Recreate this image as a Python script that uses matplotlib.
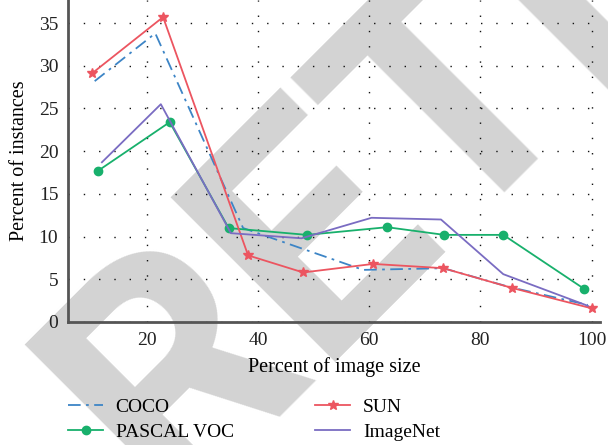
import matplotlib
matplotlib.use("Agg")
import matplotlib.pyplot as plt

coco_x = [10.6, 21.5, 37.3, 58.9, 73.3, 85.2, 99.3]
coco_y = [28.2, 33.8, 11.0, 6.1, 6.3, 4.1, 2.0]

sun_x = [10.1, 22.9, 38.2, 48.1, 60.7, 73.3, 85.6, 100.0]
sun_y = [29.1, 35.7, 7.8, 5.8, 6.8, 6.3, 4.0, 1.6]

voc_x = [11.2, 24.1, 34.7, 48.8, 63.2, 73.5, 84.1, 98.6]
voc_y = [17.7, 23.4, 11.0, 10.2, 11.1, 10.2, 10.2, 3.9]

imn_x = [11.9, 22.5, 35.1, 47.8, 60.4, 72.9, 84.1, 99.3]
imn_y = [18.7, 25.5, 10.4, 9.8, 12.2, 12.0, 5.6, 1.9]

xticks = [20, 40, 60, 80, 100]
yticks = [0, 5, 10, 15, 20, 25, 30, 35]

plt.rcParams['font.family'] = ['Liberation Serif', 'DejaVu Serif']

fig = plt.figure(figsize=(6.08, 4.45), dpi=100)
fig.text(0.276, -0.144, "RETRACTED", fontsize=235, fontweight='bold',
         family=['Roboto', 'DejaVu Sans'], color='#d3d3d3', rotation=45,
         ha='left', va='baseline', rotation_mode='anchor', zorder=-1)

ax = fig.add_axes([68/608, 1-322/445, (600-68)/608, 322/445])
ax.set_facecolor('none')

c_coco = '#3d85c6'
c_sun = '#ec5560'
c_voc = '#18b06c'
c_imn = '#7a6cc2'

ax.plot(coco_x, coco_y, color=c_coco, lw=1.3, ls=(0, (7, 3, 1.5, 3)), label='COCO')
ax.plot(voc_x, voc_y, color=c_voc, lw=1.3, marker='o', ms=6, label='PASCAL VOC')
ax.plot(sun_x, sun_y, color=c_sun, lw=1.3, marker='*', ms=7, label='SUN')
ax.plot(imn_x, imn_y, color=c_imn, lw=1.3, label='ImageNet')

ax.set_xlim(5.8, 101.5)
ax.set_ylim(0, 37.7)
ax.set_xticks(xticks)
ax.set_yticks(yticks)
ax.tick_params(length=0, labelsize=14, pad=7, colors='#222222')
ax.grid(True, color='#111111', ls=(0, (1, 10)), lw=1.0)
ax.set_axisbelow(True)
for s in ['top', 'right']:
    ax.spines[s].set_visible(False)
for s in ['left', 'bottom']:
    ax.spines[s].set_color('#555555')
    ax.spines[s].set_linewidth(2)

ax.set_xlabel('Percent of image size', fontsize=14.5, labelpad=6)
ax.set_ylabel('Percent of instances', fontsize=14.5, labelpad=7)

handles, labels = ax.get_legend_handles_labels()
fig.legend(handles, labels, ncol=2, loc='center left', bbox_to_anchor=(68/608, 1-419.5/445),
           frameon=False, fontsize=14, handlelength=1.8, handletextpad=0.65,
           columnspacing=4.2, labelspacing=0.4, borderpad=0, borderaxespad=0)

fig.savefig('out.png', dpi=100)
